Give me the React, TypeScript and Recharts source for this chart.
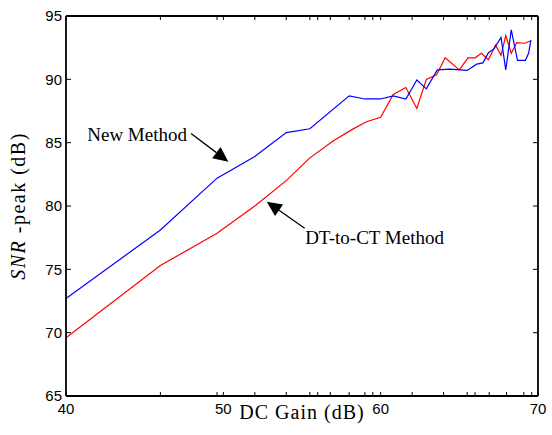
import React from 'react';
import { LineChart, Line, XAxis, YAxis, ReferenceLine, ReferenceDot } from 'recharts';

// DC gain (dB) / SNR-peak (dB)
const newX = [40, 46, 49.6, 52, 54, 55.5, 58, 59, 60, 60.8, 61.6, 62.3, 62.9, 63.6, 64.4, 65.5, 66.1, 66.5, 66.85, 67.2, 67.65, 67.95, 68.3, 68.7, 69.2, 69.4, 69.55];
const newY = [72.7, 78.1, 82.2, 83.9, 85.8, 86.1, 88.7, 88.45, 88.45, 88.7, 88.45, 89.95, 89.25, 90.75, 90.8, 90.7, 91.2, 91.3, 92.1, 92.4, 93.3, 90.75, 93.9, 91.5, 91.5, 92.05, 93.1];

const dtX = [40, 46, 49.6, 52, 54, 55.5, 57, 58.2, 59.1, 60, 60.8, 61.6, 62.3, 62.9, 63.55, 64.1, 65.0, 65.55, 66, 66.4, 66.85, 67.3, 67.65, 67.95, 68.3, 68.65, 69.15, 69.55];
const dtY = [69.6, 75.3, 77.85, 80.0, 82.0, 83.8, 85.15, 86.05, 86.65, 87.0, 88.8, 89.35, 87.7, 90.0, 90.35, 91.7, 90.75, 91.7, 91.7, 92.05, 91.55, 92.7, 91.9, 93.45, 92.05, 92.9, 92.85, 93.05];

const xLabelTicks = [40, 50, 60, 70];
const xMinorTicks = [40, 46, 49.6, 50, 52, 54, 55.5, 56, 56.8, 58, 59, 59.5, 60, 62, 64, 65.5, 66, 66.9, 68, 69.1, 69.6, 70];
const yTicks = [65, 70, 75, 80, 85, 90, 95];

// annotations: text position and arrow (from -> to) in data units
const annNew = { text: 'New Method', tx: 41.35, ty: 85.1, fx: 47.95, fy: 85.72, toX: 50.32, toY: 83.5 };
const annDt = { text: 'DT-to-CT Method', tx: 55.2, ty: 77.0, fx: 55.17, fy: 78.25, toX: 52.76, toY: 80.34 };

const newData = newX.map((x, i) => ({ x, y: newY[i] }));
const dtData = dtX.map((x, i) => ({ x, y: dtY[i] }));

const serif = '"Liberation Serif", "Times New Roman", serif';
const sans = '"Liberation Sans", Arial, sans-serif';

const Arrow = (props: any) => {
  const { x1, y1, x2, y2 } = props;
  const dx = x2 - x1;
  const dy = y2 - y1;
  const len = Math.hypot(dx, dy) || 1;
  const ux = dx / len;
  const uy = dy / len;
  const hl = 15;
  const hw = 7;
  const bx = x2 - ux * hl;
  const by = y2 - uy * hl;
  return (
    <g>
      <line x1={x1} y1={y1} x2={bx} y2={by} stroke="#000" strokeWidth={1.3} />
      <polygon
        points={`${x2},${y2} ${bx - uy * hw},${by + ux * hw} ${bx + uy * hw},${by - ux * hw}`}
        fill="#000"
      />
    </g>
  );
};

const makeText = (text: string) => (props: any) => (
  <text x={props.cx} y={props.cy} fontFamily={serif} fontSize={19} fill="#000" textAnchor="start">
    {text}
  </text>
);

const XLabel = (props: any) => {
  const vb = props.viewBox;
  return (
    <text x={vb.x + vb.width / 2} y={vb.y + 23} textAnchor="middle" fontFamily={serif} fontSize={20} letterSpacing={1} fill="#000">
      DC Gain (dB)
    </text>
  );
};

const YLabel = (props: any) => {
  const vb = props.viewBox;
  const cx = 25;
  const cy = vb.y + vb.height / 2;
  return (
    <text x={cx} y={cy} transform={`rotate(-90, ${cx}, ${cy})`} textAnchor="middle" fontFamily={serif} fontSize={20} letterSpacing={1.5} fill="#000">
      <tspan fontStyle="italic">SNR</tspan>
      <tspan> -peak (dB)</tspan>
    </text>
  );
};

export default function App() {
  return (
    <div style={{ position: 'absolute', left: 0, top: 0, width: 552, height: 435, background: '#fff' }}>
      <LineChart width={552} height={435} margin={{ top: 16, right: 14, bottom: 14, left: 0 }}>
        <XAxis
          xAxisId="main"
          dataKey="x"
          type="number"
          domain={[40, 70]}
          ticks={xLabelTicks}
          allowDataOverflow
          height={25}
          tickLine={false}
          tickSize={0}
          tickMargin={7}
          axisLine={{ stroke: '#000', strokeWidth: 1.8 }}
          tick={{ fill: '#000', fontSize: 15, fontFamily: sans }}
          label={<XLabel />}
        />
        <XAxis
          xAxisId="bottomTicks"
          dataKey="x"
          type="number"
          orientation="bottom"
          mirror
          height={1}
          domain={[40, 70]}
          ticks={xMinorTicks}
          allowDataOverflow
          tickSize={4}
          tickLine={{ stroke: '#000', strokeWidth: 1 }}
          axisLine={false}
          tickFormatter={() => ''}
        />
        <XAxis
          xAxisId="top"
          dataKey="x"
          type="number"
          orientation="top"
          mirror
          height={1}
          domain={[40, 70]}
          ticks={xMinorTicks}
          allowDataOverflow
          tickSize={4}
          tickLine={{ stroke: '#000', strokeWidth: 1 }}
          axisLine={{ stroke: '#000', strokeWidth: 1.8 }}
          tickFormatter={() => ''}
        />
        <YAxis
          yAxisId="main"
          type="number"
          domain={[65, 95]}
          ticks={yTicks}
          allowDataOverflow
          width={66}
          tickLine={false}
          tickSize={0}
          tickMargin={4}
          axisLine={{ stroke: '#000', strokeWidth: 1.8 }}
          tick={{ fill: '#000', fontSize: 15, fontFamily: sans }}
          label={<YLabel />}
        />
        <YAxis
          yAxisId="leftTicks"
          type="number"
          orientation="left"
          mirror
          width={1}
          domain={[65, 95]}
          ticks={yTicks}
          allowDataOverflow
          tickSize={5}
          tickLine={{ stroke: '#000', strokeWidth: 1 }}
          axisLine={false}
          tickFormatter={() => ''}
        />
        <YAxis
          yAxisId="right"
          type="number"
          orientation="right"
          mirror
          width={1}
          domain={[65, 95]}
          ticks={yTicks}
          allowDataOverflow
          tickSize={5}
          tickLine={{ stroke: '#000', strokeWidth: 1 }}
          axisLine={{ stroke: '#000', strokeWidth: 1.8 }}
          tickFormatter={() => ''}
        />
        <Line
          xAxisId="main"
          yAxisId="main"
          data={dtData}
          dataKey="y"
          stroke="#ff0000"
          strokeWidth={1.2}
          dot={false}
          isAnimationActive={false}
        />
        <Line
          xAxisId="main"
          yAxisId="main"
          data={newData}
          dataKey="y"
          stroke="#0000ff"
          strokeWidth={1.2}
          dot={false}
          isAnimationActive={false}
        />
        <ReferenceLine
          xAxisId="main"
          yAxisId="main"
          segment={[{ x: annNew.fx, y: annNew.fy }, { x: annNew.toX, y: annNew.toY }]}
          shape={Arrow}
        />
        <ReferenceLine
          xAxisId="main"
          yAxisId="main"
          segment={[{ x: annDt.fx, y: annDt.fy }, { x: annDt.toX, y: annDt.toY }]}
          shape={Arrow}
        />
        <ReferenceDot xAxisId="main" yAxisId="main" x={annNew.tx} y={annNew.ty} r={0} shape={makeText(annNew.text)} />
        <ReferenceDot xAxisId="main" yAxisId="main" x={annDt.tx} y={annDt.ty} r={0} shape={makeText(annDt.text)} />
      </LineChart>
    </div>
  );
}
